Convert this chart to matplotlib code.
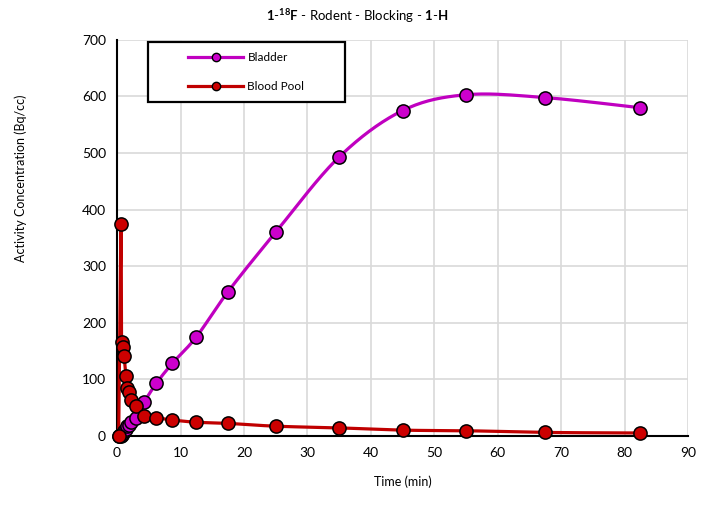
import numpy as np
import matplotlib.pyplot as plt
from matplotlib.patches import Rectangle

plt.rcParams['font.family'] = ['Lato', 'DejaVu Sans']
plt.rcParams['mathtext.fontset'] = 'custom'
plt.rcParams['mathtext.rm'] = 'Lato'
plt.rcParams['mathtext.bf'] = 'Lato:bold'

# frame mid-times (min)
time_min = [0.25, 0.6, 0.7, 0.9, 1.1, 1.4, 1.6, 1.8, 2.2, 3.0, 4.3, 6.2,
            8.7, 12.5, 17.5, 25, 35, 45, 55, 67.5, 82.5]
bladder = [0, 0, 2, 5, 8, 12, 17, 20, 25, 32, 60, 93,
           128, 175, 255, 360, 493, 575, 603, 598, 580]
blood_pool = [0, 375, 165, 157, 141, 105, 85, 78, 63, 52, 35, 32,
              28, 24, 22, 17, 14, 10, 9, 6, 5]


def smooth(x, y, xr=90.0, yr=700.0, n=20):
    # Catmull-Rom through the points, done in axis-normalised units
    p = np.column_stack([np.asarray(x) / xr, np.asarray(y) / yr])
    p = np.vstack([p[0], p, p[-1]])
    out = []
    for i in range(1, len(p) - 2):
        p0, p1, p2, p3 = p[i - 1], p[i], p[i + 1], p[i + 2]
        t = np.linspace(0, 1, n)[:, None]
        seg = 0.5 * ((2 * p1) + (-p0 + p2) * t
                     + (2 * p0 - 5 * p1 + 4 * p2 - p3) * t ** 2
                     + (-p0 + 3 * p1 - 3 * p2 + p3) * t ** 3)
        out.append(seg)
    out = np.vstack(out)
    return out[:, 0] * xr, out[:, 1] * yr


fig, ax = plt.subplots(figsize=(7.14, 5.05), dpi=100)
fig.subplots_adjust(left=0.164, right=0.9636, bottom=0.137, top=0.921)

series = [(bladder, 'Bladder', '#C000C0', '#CC00CC'),
          (blood_pool, 'Blood Pool', '#C00000', '#CC0000')]
for values, name, lc, fc in series:
    sx, sy = smooth(time_min, values)
    ax.plot(sx, sy, color=lc, linewidth=2.3, zorder=3, clip_on=False)
    ax.plot(time_min, values, linestyle='none', marker='o', markersize=9.5,
            markerfacecolor=fc, markeredgecolor='black', markeredgewidth=1.1,
            zorder=4, clip_on=False)

# legend box drawn separately so it can be wider than its entries
ax.add_patch(Rectangle((0.054, 0.843), 0.345, 0.152, transform=ax.transAxes,
                       facecolor='white', edgecolor='black', linewidth=1.6,
                       zorder=5, clip_on=False))
handles = [plt.Line2D([0], [0], color=lc, linewidth=2.3, marker='o', markersize=6,
                      markerfacecolor=fc, markeredgecolor='black', label=name)
           for _, name, lc, fc in series]
leg = ax.legend(handles=handles, loc='center left', bbox_to_anchor=(0.125, 0.919),
                fontsize=8.5, frameon=False, borderpad=0.0, handletextpad=0.4,
                labelspacing=1.55, handlelength=4.6, borderaxespad=0.0)
leg.set_zorder(6)

ax.set_xlim(0, 90)
ax.set_ylim(0, 700)
ax.set_xticks(np.arange(0, 91, 10))
ax.set_yticks(np.arange(0, 701, 100))
ax.grid(True, color='#D9D9D9', linewidth=1.2)
ax.set_axisbelow(True)
ax.tick_params(length=0, labelsize=10, pad=8)

for side in ['top', 'right']:
    ax.spines[side].set_visible(False)
for side in ['left', 'bottom']:
    ax.spines[side].set_color('black')
    ax.spines[side].set_linewidth(1.5)

ax.set_xlabel('Time (min)', fontsize=9, labelpad=12)
ax.set_ylabel('Activity Concentration (Bq/cc)', fontsize=9)
ax.yaxis.set_label_coords(-0.158, 0.65)
fig.suptitle(r'$\mathbf{1}$-$^{\mathbf{18}}\mathbf{F}$ - Rodent - Blocking - $\mathbf{1}$-$\mathbf{H}$',
             fontsize=9.5, y=0.985)

plt.savefig('out.png', dpi=100)
